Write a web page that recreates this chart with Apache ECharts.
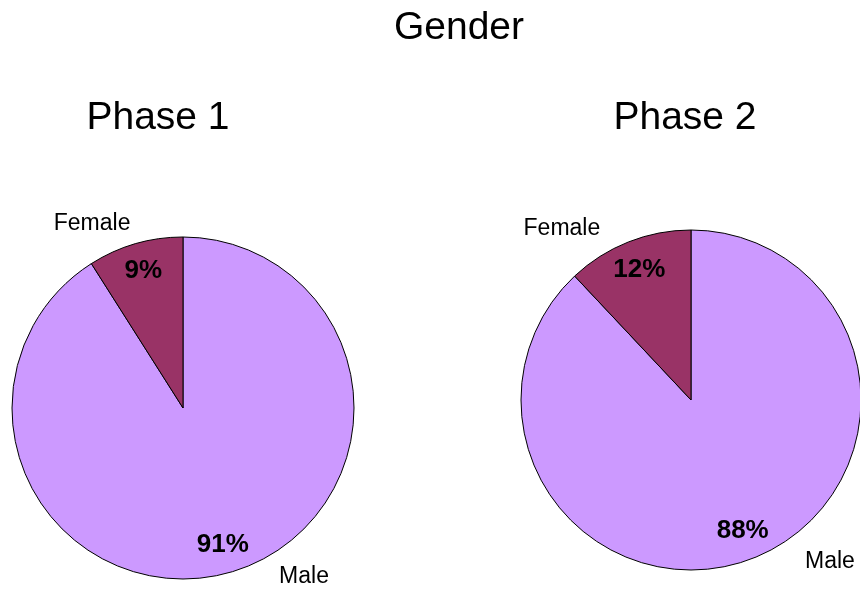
<!DOCTYPE html>
<html>
<head>
<meta charset="utf-8">
<script src="https://cdn.jsdelivr.net/npm/echarts@6/dist/echarts.min.js"></script>
<style>
  html, body { margin: 0; padding: 0; background: #ffffff; }
  #chart { width: 860px; height: 589px; }
</style>
</head>
<body>
<div id="chart"></div>
<script>
// Gender split per phase (percent of respondents)
const categories = ['Male', 'Female'];
const phase1Values = [91, 9];
const phase2Values = [88, 12];
const phaseTitles = ['Phase 1', 'Phase 2'];
const mainTitle = 'Gender';

const sliceColors = { Male: '#CC99FF', Female: '#993366' };
const FONT = 'Liberation Sans, Arial, sans-serif';

// Leader offsets for the outside category names (line itself hidden)
const nameOffsets = [
  { Male: [5, 42], Female: [21, -6] },
  { Male: [4, 45], Female: [14, 18] }
];
// inner edge of the ring that carries the percent labels
const percentRingInner = [108, 105];

function pieData(values) {
  return categories.map((name, i) => ({ name: name, value: values[i] }));
}

function phaseSeries(values, center, radius, idx) {
  const base = {
    type: 'pie',
    center: center,
    startAngle: 90,
    clockwise: true,
    avoidLabelOverlap: false,
    animation: false,
    silent: true
  };
  // filled slices with outside category names
  const slices = Object.assign({}, base, {
    radius: [0, radius],
    itemStyle: { borderColor: '#000000', borderWidth: 1 },
    label: {
      show: true,
      position: 'outside',
      formatter: '{b}',
      color: '#000000',
      fontFamily: FONT,
      fontSize: 23,
      distanceToLabelLine: 5
    },
    data: pieData(values).map(d => Object.assign(d, {
      itemStyle: { color: sliceColors[d.name] },
      labelLine: {
        show: false,
        length: nameOffsets[idx][d.name][0],
        length2: nameOffsets[idx][d.name][1]
      }
    }))
  });
  // transparent ring that carries the bold percent labels near the rim
  const percents = Object.assign({}, base, {
    radius: [percentRingInner[idx], radius],
    z: 3,
    itemStyle: { color: 'rgba(0,0,0,0)', borderWidth: 0 },
    label: {
      show: true,
      position: 'inside',
      formatter: '{c}%',
      color: '#000000',
      fontFamily: FONT,
      fontWeight: 'bold',
      fontSize: 26
    },
    labelLine: { show: false },
    data: pieData(values)
  });
  return [slices, percents];
}

const chart = echarts.init(document.getElementById('chart'), null, { renderer: 'canvas' });

const titleStyle = { fontFamily: FONT, fontSize: 39, fontWeight: 'normal', color: '#000000' };

chart.setOption({
  backgroundColor: '#ffffff',
  title: [
    { text: mainTitle, left: 454, top: 4, textAlign: 'center', textStyle: titleStyle },
    { text: phaseTitles[0], left: 153, top: 94, textAlign: 'center', textStyle: titleStyle },
    { text: phaseTitles[1], left: 680, top: 94, textAlign: 'center', textStyle: titleStyle }
  ],
  series: [
    ...phaseSeries(phase1Values, [183, 408], 171, 0),
    ...phaseSeries(phase2Values, [691, 400], 170, 1)
  ]
});
</script>
</body>
</html>
